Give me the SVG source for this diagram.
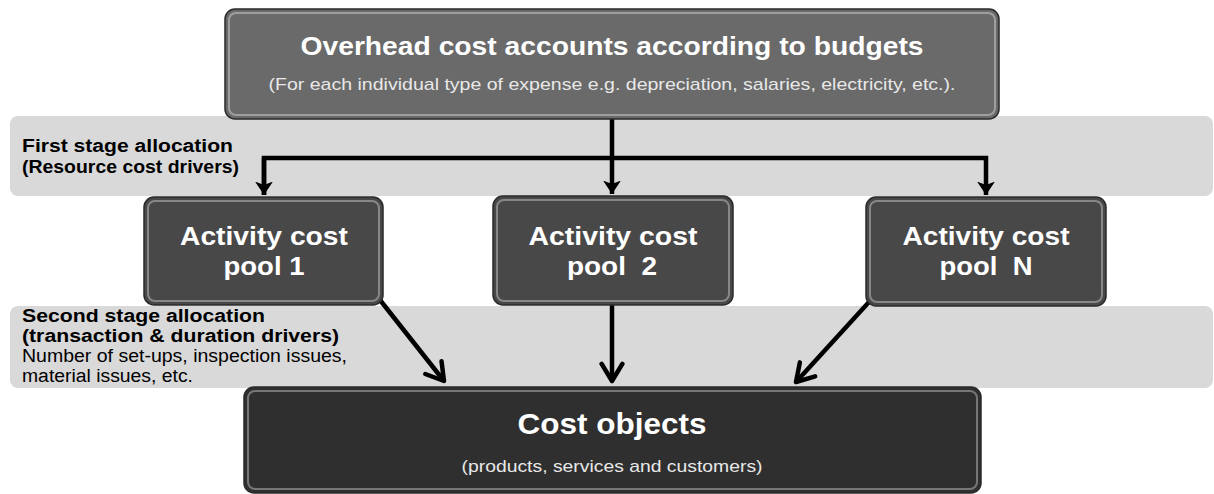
<svg xmlns="http://www.w3.org/2000/svg" width="1214" height="494" viewBox="0 0 1214 494">
<defs>
<style>
.band{fill:#d9d9d9;}
.box{stroke:#2a2a2a;stroke-width:1.5;}
.bevel{fill:none;stroke:#ffffff;stroke-opacity:0.35;stroke-width:2;}
text{font-family:"Liberation Sans",Arial,Helvetica,sans-serif;}
.t{text-anchor:middle;}
.w{fill:#ffffff;font-weight:bold;}
.sub{fill:#e8e8e8;}
.lbl{fill:#000000;font-size:18px;}
.b{font-weight:bold;}
.conn{fill:none;stroke:#000000;stroke-width:4.5;}
</style>
<linearGradient id="bandg" x1="0" y1="0" x2="0" y2="1">
<stop offset="0" stop-color="#dcdcdc"/><stop offset="1" stop-color="#d4d4d4"/>
</linearGradient>
<marker id="ah" markerWidth="4" markerHeight="4" refX="3" refY="2" orient="auto" markerUnits="strokeWidth">
<path d="M0,0 L3,2 L0,4 L0.8,2 Z" fill="#000"/>
</marker>
<marker id="oa" markerWidth="6" markerHeight="6" refX="4.6" refY="3" orient="auto" markerUnits="strokeWidth">
<path d="M0.8,0.7 L4.6,3 L0.8,5.3" fill="none" stroke="#000" stroke-width="1" stroke-linejoin="round" stroke-linecap="round"/>
</marker>
</defs>
<rect width="1214" height="494" fill="#ffffff"/>
<g id="band1"><rect class="band" x="10" y="116" width="1203" height="80" rx="8" fill="url(#bandg)"/>
<text class="lbl b" x="22" y="152" textLength="211" lengthAdjust="spacingAndGlyphs">First stage allocation</text>
<text class="lbl b" x="22" y="173" textLength="217" lengthAdjust="spacingAndGlyphs">(Resource cost drivers)</text></g>
<g id="band2"><rect class="band" x="10" y="306" width="1203" height="82" rx="8" fill="url(#bandg)"/>
<text class="lbl b" x="22" y="322" textLength="243" lengthAdjust="spacingAndGlyphs">Second stage allocation</text>
<text class="lbl b" x="22" y="342" textLength="317" lengthAdjust="spacingAndGlyphs">(transaction &amp; duration drivers)</text>
<text class="lbl" x="22" y="362" textLength="325" lengthAdjust="spacingAndGlyphs">Number of set-ups, inspection issues,</text>
<text class="lbl" x="22" y="382" textLength="171" lengthAdjust="spacingAndGlyphs">material issues, etc.</text></g>
<g id="connectors">
<path class="conn" d="M612,119 V194" marker-end="url(#ah)"/>
<path class="conn" d="M264,195 V158 H986 V195" marker-end="url(#ah)"/>
<path class="conn" d="M264,158 V195" marker-end="url(#ah)"/>
<path class="conn" d="M380,300 L444,381" marker-end="url(#oa)"/>
<path class="conn" d="M612,305 V381" marker-end="url(#oa)"/>
<path class="conn" d="M869,302 L796,382" marker-end="url(#oa)"/>
</g>
<g id="overhead">
<rect class="box" x="225" y="9" width="774" height="110" rx="10" fill="#6a6a6a"/>
<rect class="bevel" x="229" y="13" width="766" height="102" rx="7"/>
<text class="t w" x="612" y="55" font-size="26.5" textLength="623" lengthAdjust="spacingAndGlyphs">Overhead cost accounts according to budgets</text>
<text class="t sub" x="612" y="90" font-size="17" textLength="687" lengthAdjust="spacingAndGlyphs">(For each individual type of expense e.g. depreciation, salaries, electricity, etc.).</text>
</g>
<g id="pool1">
<rect class="box" x="144" y="197" width="239" height="108" rx="10" fill="#484848"/>
<rect class="bevel" x="148" y="201" width="231" height="100" rx="7"/>
<text class="t w" x="264" y="245" font-size="25" textLength="168" lengthAdjust="spacingAndGlyphs">Activity cost</text>
<text class="t w" x="264" y="275" font-size="25" textLength="81" lengthAdjust="spacingAndGlyphs">pool 1</text>
</g>
<g id="pool2">
<rect class="box" x="493" y="196" width="240" height="109" rx="10" fill="#484848"/>
<rect class="bevel" x="497" y="200" width="232" height="101" rx="7"/>
<text class="t w" x="613" y="245" font-size="25" textLength="169" lengthAdjust="spacingAndGlyphs">Activity cost</text>
<text class="t w" x="612" y="275" font-size="25" textLength="90" lengthAdjust="spacingAndGlyphs" xml:space="preserve">pool  2</text>
</g>
<g id="poolN">
<rect class="box" x="866" y="197" width="240" height="109" rx="10" fill="#484848"/>
<rect class="bevel" x="870" y="201" width="232" height="101" rx="7"/>
<text class="t w" x="986" y="245" font-size="25" textLength="167" lengthAdjust="spacingAndGlyphs">Activity cost</text>
<text class="t w" x="986" y="275" font-size="25" textLength="93" lengthAdjust="spacingAndGlyphs" xml:space="preserve">pool  N</text>
</g>
<g id="costobjects">
<rect class="box" x="244" y="387" width="737" height="106" rx="10" fill="#2f2f2f"/>
<rect class="bevel" x="248" y="391" width="729" height="98" rx="7" stroke-opacity="0.25"/>
<text class="t w" x="612" y="434" font-size="30" textLength="189" lengthAdjust="spacingAndGlyphs">Cost objects</text>
<text class="t sub" x="612" y="472" font-size="17" textLength="301" lengthAdjust="spacingAndGlyphs">(products, services and customers)</text>
</g>
</svg>
